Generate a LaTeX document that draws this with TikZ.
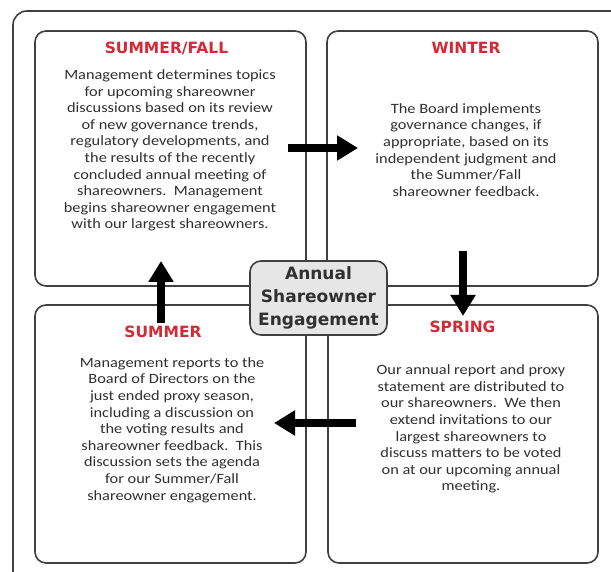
\documentclass[tikz,border=0pt]{standalone}
\usepackage{fontspec}
\usetikzlibrary{arrows.meta}
\newfontfamily\bodyfont[FakeStretch=1.15]{Carlito}
\newfontfamily\headfont{DejaVu Sans}
\definecolor{titlered}{HTML}{D22A36}
\definecolor{bodygray}{HTML}{303030}
\definecolor{framegray}{HTML}{404040}
\definecolor{hubfill}{HTML}{E6E6E6}
\begin{document}
\begin{tikzpicture}[x=1pt,y=-1pt,
  panel/.style={draw=framegray,line width=1.6pt,rounded corners=11pt,fill=white,inner sep=0pt},
  hub/.style={draw=framegray,line width=1.6pt,rounded corners=11pt,fill=hubfill,inner sep=0pt,
    minimum width=137pt,minimum height=74pt,align=center,text=bodygray,
    font=\headfont\bfseries\fontsize{17}{23}\selectfont},
  title/.style={text=titlered,font=\headfont\bfseries\fontsize{15.5}{18}\selectfont,inner sep=0pt},
  bodytext/.style={text=bodygray,align=center,inner sep=0pt,font=\bodyfont\fontsize{14.2}{16.6}\selectfont},
  flow/.style={line width=8pt,-{Triangle[width=24pt,length=21pt]},black}
]
\useasboundingbox (0,0) rectangle (611,572);
% outer frame (extends past the right and bottom edges)
\draw[framegray,line width=1.6pt,rounded corners=14pt] (13,11) rectangle (640,600);
% panels
\node[panel,minimum width=271pt,minimum height=255pt] (sf) at (170.5,158.5) {};
\node[panel,minimum width=271pt,minimum height=255pt] (wi) at (462.5,158.5) {};
\node[panel,minimum width=271pt,minimum height=258pt] (su) at (170.5,434) {};
\node[panel,minimum width=270pt,minimum height=258pt] (sp) at (463,434) {};
% titles
\node[title] (sft) at (166.5,48) {SUMMER/FALL};
\node[title] (wit) at (466,48) {WINTER};
\node[title] (sut) at (163,332) {SUMMER};
\node[title] (spt) at (462.5,327) {SPRING};
% bodies
\node[bodytext] (sfb) at (170,150.5) {Management determines topics\\for upcoming shareowner\\discussions based on its review\\of new governance trends,\\regulatory developments, and\\the results of the recently\\concluded annual meeting of\\shareowners.\ \ Management\\begins shareowner engagement\\with our largest shareowners.};
\node[bodytext] (wib) at (466,150) {The Board implements\\governance changes, if\\appropriate, based on its\\independent judgment and\\the Summer/Fall\\shareowner feedback.};
\node[bodytext] (sub) at (172,430) {Management reports to the\\Board of Directors on the\\just ended proxy season,\\including a discussion on\\the voting results and\\shareowner feedback.\ \ This\\discussion sets the agenda\\for our Summer/Fall\\shareowner engagement.};
\node[bodytext] (spb) at (471,429) {Our annual report and proxy\\statement are distributed to\\our shareowners.\ \ We then\\extend invitations to our\\largest shareowners to\\discuss matters to be voted\\on at our upcoming annual\\meeting.};
% hub
\node[hub] (hub) at (318.5,298) {Annual\\Shareowner\\Engagement};
% arrows
\coordinate (a1s) at (288,148);
\coordinate (a1e) at (358,148);
\coordinate (a2s) at (463,251);
\coordinate (a2e) at (463,316);
\coordinate (a3s) at (356,423);
\coordinate (a3e) at (274,423);
\coordinate (a4s) at (161,323);
\coordinate (a4e) at (161,261);
\draw[flow] (a1s) -- (a1e);
\draw[flow] (a2s) -- (a2e);
\draw[flow] (a3s) -- (a3e);
\draw[flow] (a4s) -- (a4e);
\end{tikzpicture}
\end{document}
